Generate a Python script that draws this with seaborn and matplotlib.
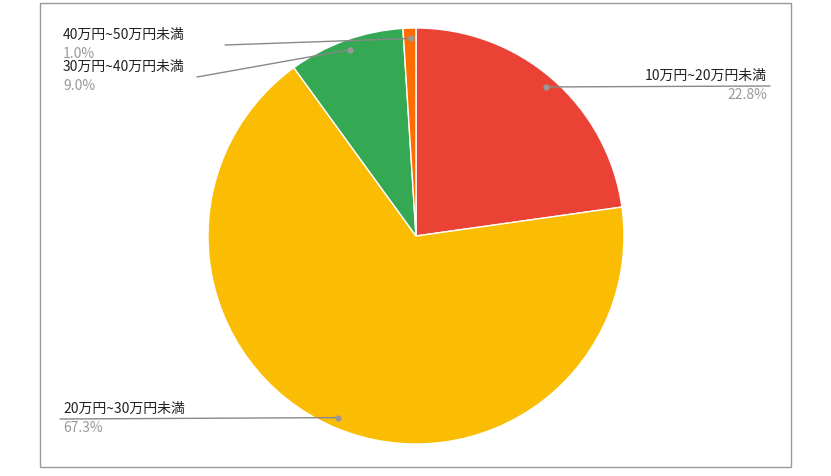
import numpy as np
import matplotlib
matplotlib.use("Agg")
import matplotlib.pyplot as plt
import seaborn as sns
from matplotlib.lines import Line2D
from matplotlib.patches import Rectangle

sns.set_style("white")
plt.rcParams['font.family'] = ['Noto Sans CJK JP', 'DejaVu Sans']

labels = ['10万円~20万円未満', '20万円~30万円未満', '30万円~40万円未満', '40万円~50万円未満']
values = [22.8, 67.3, 9.0, 1.0]
colors = ['#EA4335', '#FBBC04', '#34A853', '#FF6D01']

W, H = 831, 476
fig = plt.figure(figsize=(W / 100, H / 100), dpi=100)
fig.patch.set_facecolor('white')
fig.add_artist(Rectangle((40 / W, 9 / H), 751 / W, 464 / H, transform=fig.transFigure,
                         fill=False, edgecolor='#999999', linewidth=1))

ax = fig.add_axes([208 / W, 32 / H, 416 / W, 416 / H])
ax.pie(values, colors=colors, startangle=90, counterclock=False,
       wedgeprops=dict(linewidth=1, edgecolor='white'))
ax.set_xlim(-1, 1)
ax.set_ylim(-1, 1)
ax.set_aspect('equal')

# label anchor: (line end x, line end y, text x, align) in figure pixels from top
layout = [(770, 86, 767, 'right'), (60, 419, 63, 'left'),
          (197, 77, 63, 'left'), (225, 45, 63, 'left')]

cum = np.cumsum([0] + values[:-1])
for i, (lab, v) in enumerate(zip(labels, values)):
    ang = np.deg2rad(90 - (cum[i] + v / 2) * 3.6)
    px, py = ax.transData.transform((0.95 * np.cos(ang), 0.95 * np.sin(ang)))
    lx, ly, tx, ha = layout[i]
    ly = H - ly
    fig.add_artist(Line2D([px / W, lx / W], [py / H, ly / H], transform=fig.transFigure,
                          color='#888888', linewidth=1))
    fig.add_artist(Line2D([px / W], [py / H], transform=fig.transFigure, marker='o',
                          markersize=3.5, color='#999999', linestyle='none'))
    fig.text(tx / W, (ly + 3) / H, lab, ha=ha, va='bottom', fontsize=10, color='#222222')
    fig.text(tx / W, (ly - 2) / H, f'{v:.1f}%', ha=ha, va='top', fontsize=10, color='#999999')

fig.savefig('out.png', dpi=100)
